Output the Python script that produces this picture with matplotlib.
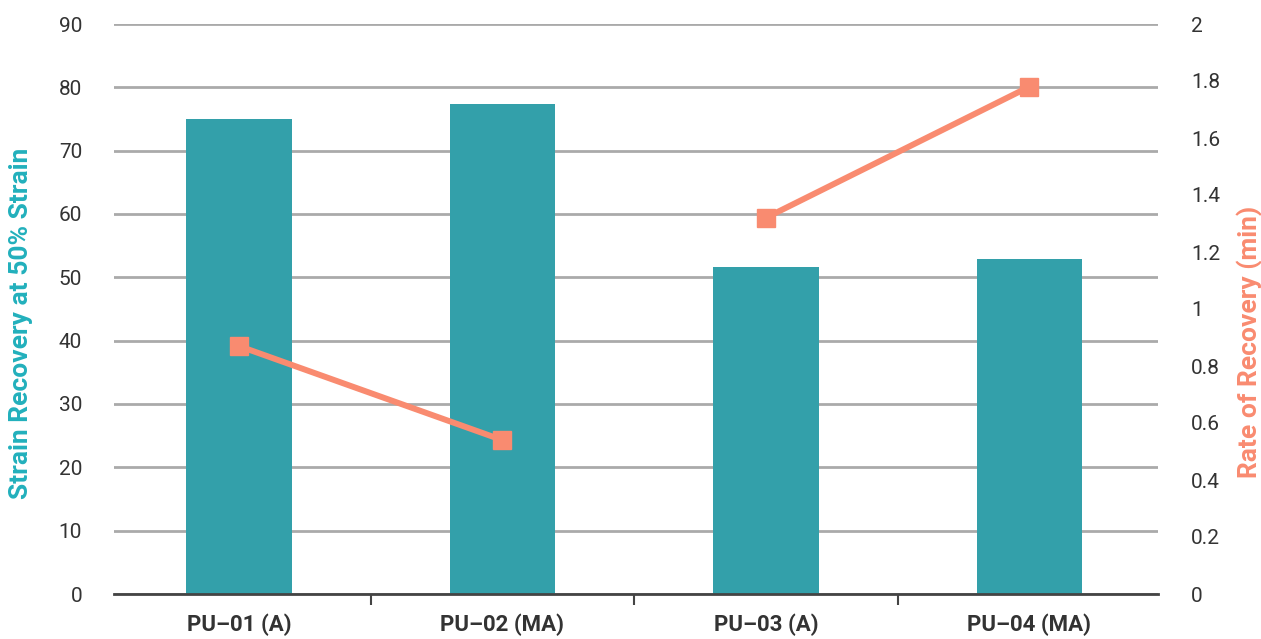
import matplotlib
matplotlib.use("Agg")
import matplotlib.pyplot as plt
import numpy as np

categories = ["PU–01 (A)", "PU–02 (MA)", "PU–03 (A)", "PU–04 (MA)"]
strain_recovery = [75.0, 77.4, 51.6, 52.9]
rate_seg1 = [0.87, 0.54]     # PU-01, PU-02
rate_seg2 = [1.32, 1.78]     # PU-03, PU-04
left_ticks = list(range(0, 91, 10))
right_ticks = [0, 0.2, 0.4, 0.6, 0.8, 1, 1.2, 1.4, 1.6, 1.8, 2]
right_tick_labels = ["0", "0.2", "0.4", "0.6", "0.8", "1", "1.2", "1.4", "1.6", "1.8", "2"]

TEAL = "#33A0AA"
TEAL_LABEL = "#22B0BC"
ORANGE = "#F98B70"
FONT = ["Roboto", "DejaVu Sans"]

plt.rcParams['font.family'] = FONT

fig = plt.figure(figsize=(12.61, 6.39), dpi=100)
ax = fig.add_axes([114/1261, 1-594/639, (1158-114)/1261, (594-24)/639])
ax2 = ax.twinx()

x = np.arange(len(categories))
ax.bar(x, strain_recovery, width=0.4, color=TEAL, zorder=2)
ax.set_ylim(0, 90)
ax.set_yticks(left_ticks)
ax.set_yticklabels([str(t) for t in left_ticks], fontsize=15, color="#333333")
ax.yaxis.grid(True, color="#AAAAAA", linewidth=2, zorder=0)
ax.set_axisbelow(True)
ax.tick_params(axis='y', length=0, pad=23)
ax.set_xlim(-0.474, 3.488)
ax.set_xticks([0.5, 1.5, 2.5])
ax.set_xticklabels([])
ax.set_xticks(x, minor=True)
ax.set_xticklabels(categories, minor=True, fontsize=16, fontweight='bold', color="#333333")
ax.tick_params(axis='x', which='major', length=8, width=1.5, color="#444444", direction='out')
ax.tick_params(axis='x', which='minor', length=0, pad=14)
for s in ['top', 'left', 'right']:
    ax.spines[s].set_visible(False)
    ax2.spines[s].set_visible(False)
ax2.spines['bottom'].set_visible(False)
ax.spines['bottom'].set_color("#444444")
ax.spines['bottom'].set_linewidth(2)
ax.spines['bottom'].set_zorder(5)

ax.set_ylabel("Strain Recovery at 50% Strain", fontsize=19, fontweight='bold',
              color=TEAL_LABEL)
ax.yaxis.set_label_coords(-0.0775, 0.474)

ax2.plot(x[:2], rate_seg1, color=ORANGE, linewidth=4.3, marker='s', markersize=13, zorder=3)
ax2.plot(x[2:], rate_seg2, color=ORANGE, linewidth=4.3, marker='s', markersize=13, zorder=3)
ax2.set_ylim(0, 2)
ax2.set_yticks(right_ticks)
ax2.set_yticklabels(right_tick_labels, fontsize=15, color="#333333")
ax2.tick_params(axis='y', length=0, pad=24)
ax2.set_ylabel("Rate of Recovery (min)", fontsize=19, fontweight='bold',
               color=ORANGE)
ax2.yaxis.set_label_coords(1.0755, 0.442)

fig.savefig("out.png", dpi=100)
